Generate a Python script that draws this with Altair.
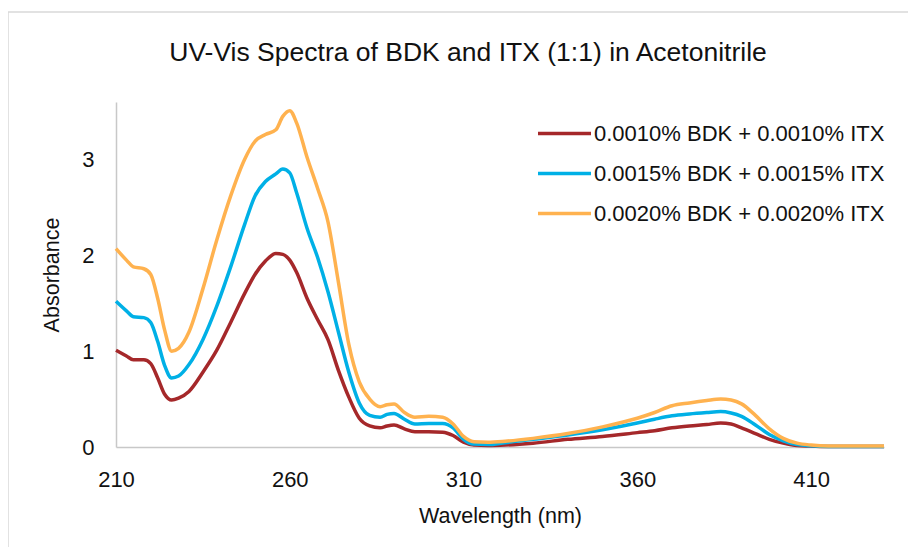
import altair as alt
import pandas as pd

wavelength = [210, 213, 215, 218, 220, 222, 224, 226, 228, 231, 235, 239, 243, 247, 250,
              253, 256, 258, 260, 262, 265, 268, 271, 274, 277, 280, 283, 286, 288, 290,
              293, 296, 300, 304, 307, 310, 313, 317, 322, 330, 340, 350, 360, 365, 370,
              375, 380, 384, 387, 390, 394, 398, 402, 406, 410, 415, 420, 425, 431]

abs_0010 = [1.01, 0.95, 0.91, 0.91, 0.87, 0.72, 0.55, 0.49, 0.51, 0.58, 0.78, 1.01, 1.30, 1.60, 1.80,
            1.94, 2.02, 2.01, 1.95, 1.82, 1.55, 1.33, 1.12, 0.80, 0.52, 0.30, 0.22, 0.20, 0.22, 0.23,
            0.19, 0.16, 0.16, 0.155, 0.12, 0.05, 0.02, 0.015, 0.02, 0.04, 0.08, 0.11, 0.15, 0.17, 0.20,
            0.22, 0.235, 0.25, 0.24, 0.20, 0.14, 0.08, 0.04, 0.015, 0.01, 0.005, 0.005, 0.005, 0.005]

abs_0015 = [1.52, 1.42, 1.36, 1.35, 1.30, 1.10, 0.85, 0.72, 0.74, 0.86, 1.12, 1.47, 1.88, 2.32, 2.62,
            2.77, 2.85, 2.90, 2.86, 2.65, 2.28, 1.98, 1.62, 1.20, 0.78, 0.46, 0.33, 0.31, 0.34, 0.35,
            0.29, 0.24, 0.245, 0.245, 0.20, 0.08, 0.03, 0.025, 0.045, 0.08, 0.125, 0.18, 0.25, 0.29, 0.325,
            0.345, 0.36, 0.37, 0.355, 0.32, 0.23, 0.13, 0.065, 0.025, 0.012, 0.006, 0.006, 0.006, 0.006]

abs_0020 = [2.07, 1.95, 1.88, 1.86, 1.80, 1.55, 1.22, 1.00, 1.03, 1.20, 1.65, 2.16, 2.62, 3.00, 3.19,
            3.26, 3.31, 3.45, 3.51, 3.38, 3.02, 2.70, 2.35, 1.72, 1.07, 0.68, 0.50, 0.42, 0.44, 0.45,
            0.36, 0.31, 0.32, 0.31, 0.24, 0.11, 0.055, 0.05, 0.06, 0.09, 0.14, 0.21, 0.30, 0.36, 0.43,
            0.46, 0.485, 0.50, 0.49, 0.45, 0.33, 0.19, 0.09, 0.04, 0.02, 0.01, 0.01, 0.01, 0.01]

series_names = ["0.0010% BDK + 0.0010% ITX",
                "0.0015% BDK + 0.0015% ITX",
                "0.0020% BDK + 0.0020% ITX"]
series_colors = ["#A5282A", "#00B0E6", "#FFB24F"]
x_ticks = [210, 260, 310, 360, 410]
y_ticks = [0, 1, 2, 3]

rows = []
for name, vals in zip(series_names, [abs_0010, abs_0015, abs_0020]):
    for w, a in zip(wavelength, vals):
        rows.append({"Wavelength": w, "Absorbance": a, "Series": name})
df = pd.DataFrame(rows)

FONT = "Liberation Sans, Arial, sans-serif"

lines = alt.Chart(df).mark_line(strokeWidth=3.5, interpolate="monotone").encode(
    x=alt.X("Wavelength:Q",
            scale=alt.Scale(domain=[210, 431], nice=False, zero=False),
            axis=alt.Axis(title="Wavelength (nm)", values=x_ticks, grid=False,
                          ticks=False, labelPadding=22, titlePadding=15, labelFlush=False,
                          domainColor="#C8C8C8", domainWidth=1.5)),
    y=alt.Y("Absorbance:Q",
            scale=alt.Scale(domain=[0, 3.6], nice=False),
            axis=alt.Axis(title="Absorbance", values=y_ticks, grid=False,
                          ticks=False, labelPadding=22, titlePadding=18,
                          domainColor="#C8C8C8", domainWidth=1.5)),
    color=alt.Color("Series:N",
                    scale=alt.Scale(domain=series_names, range=series_colors),
                    legend=alt.Legend(title=None, orient="none", legendX=420, legendY=3,
                                      symbolType="stroke", symbolSize=2809,
                                      symbolStrokeWidth=3.5, labelFontSize=22,
                                      labelFont=FONT, labelColor="#111", labelLimit=600,
                                      rowPadding=-1, labelOffset=1)),
)

frame_df = pd.DataFrame({"k": [0]})
frame_left = alt.Chart(frame_df).mark_rule(color="#D9D9D9", strokeWidth=1.5).encode(
    x=alt.value(-108), y=alt.value(-90), y2=alt.value(470))
frame_top = alt.Chart(frame_df).mark_rule(color="#D9D9D9", strokeWidth=1.5).encode(
    x=alt.value(-108), x2=alt.value(820), y=alt.value(-90))

chart = alt.layer(frame_left, frame_top, lines).properties(
    width=768, height=345,
    autosize=alt.AutoSizeParams(type="none"),
    padding={"left": 108, "top": 94, "right": 24, "bottom": 100},
    title=alt.TitleParams("UV-Vis Spectra of BDK and ITX (1:1) in Acetonitrile",
                          fontSize=26.5, font=FONT, fontWeight="normal", color="#111",
                          anchor="middle", dx=-32, dy=55, offset=0),
).configure_view(stroke=None).configure_axis(
    labelFont=FONT, titleFont=FONT, labelFontSize=22, titleFontSize=21.5,
    labelColor="#111", titleColor="#111", titleFontWeight="normal")

chart.save("out.html", embed_options={"renderer": "svg", "actions": False})
